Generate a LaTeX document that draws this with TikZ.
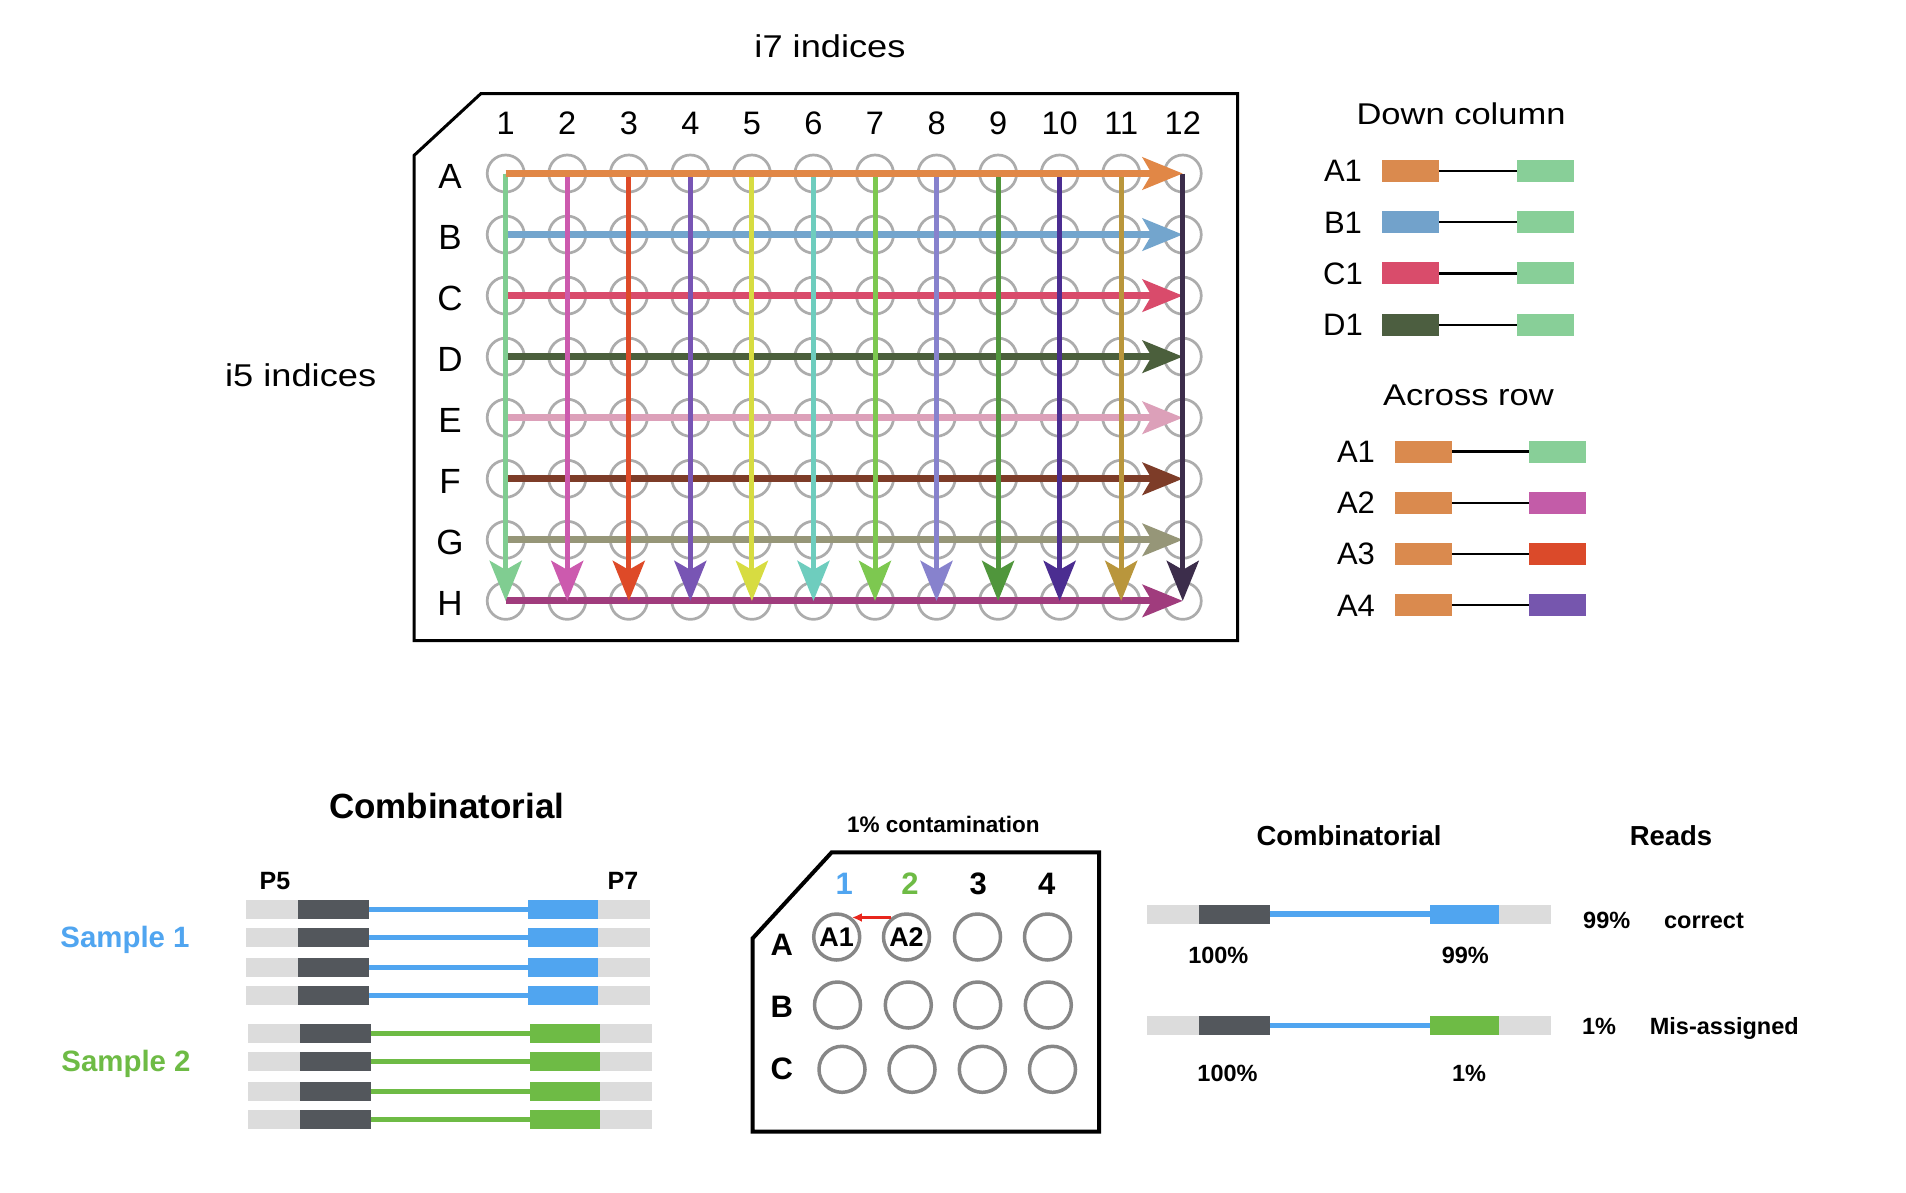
\documentclass[tikz,border=0pt]{standalone}
\usepackage{fontspec}
\setmainfont{Liberation Sans}
\newfontfamily\widefont[FakeStretch=1.15]{Liberation Sans}
\usetikzlibrary{arrows.meta}
\newcommand{\fsz}[1]{\fontsize{#1}{#1}\selectfont}
% plate colours
\definecolor{wellgray}{RGB}{172,172,172}
\definecolor{cA}{RGB}{225,135,70}
\definecolor{cB}{RGB}{115,165,205}
\definecolor{cC}{RGB}{217,75,107}
\definecolor{cD}{RGB}{75,95,60}
\definecolor{cE}{RGB}{220,160,185}
\definecolor{cF}{RGB}{125,60,40}
\definecolor{cG}{RGB}{150,150,120}
\definecolor{cH}{RGB}{160,60,125}
\definecolor{v1}{RGB}{128,205,145}
\definecolor{v2}{RGB}{204,90,174}
\definecolor{v3}{RGB}{222,74,40}
\definecolor{v4}{RGB}{120,85,180}
\definecolor{v5}{RGB}{215,220,65}
\definecolor{v6}{RGB}{110,205,190}
\definecolor{v7}{RGB}{125,200,80}
\definecolor{v8}{RGB}{135,130,205}
\definecolor{v9}{RGB}{80,150,60}
\definecolor{v10}{RGB}{75,45,145}
\definecolor{v11}{RGB}{185,150,60}
\definecolor{v12}{RGB}{60,45,75}
% legend colours
\definecolor{lgOrange}{RGB}{218,138,78}
\definecolor{lgGreen}{RGB}{136,207,152}
\definecolor{lgBlue}{RGB}{114,162,203}
\definecolor{lgCrimson}{RGB}{217,76,107}
\definecolor{lgDark}{RGB}{76,94,64}
\definecolor{lgMagenta}{RGB}{195,92,168}
\definecolor{lgRed}{RGB}{219,74,42}
\definecolor{lgPurple}{RGB}{118,86,174}
% bottom colours
\definecolor{sBlue}{RGB}{80,165,240}
\definecolor{sGreen}{RGB}{110,187,69}
\definecolor{sDark}{RGB}{83,87,92}
\definecolor{sGray}{RGB}{220,220,220}
\definecolor{sWell}{RGB}{135,135,135}
\definecolor{sRed}{RGB}{232,38,28}

\newcommand{\dnastrip}[8]{%
  \node[graybar, minimum width=52pt] (#1gl) at ({#3-26},#2) {};
  \node[darkbar, minimum width={(#4-#3)*1pt}] (#1dk) at ({(#3+#4)/2},#2) {};
  \node[graybar, minimum width=52pt] (#1gr) at ({#6+26},#2) {};
  \node[bar, fill=#7, minimum width={(#6-#5)*1pt}] (#1cb) at ({(#5+#6)/2},#2) {};
  \draw[insert, draw=#8] (#1dk.east) -- (#1cb.west);
}

\begin{document}
\begin{tikzpicture}[x=1pt,y=-1pt,
  well/.style={circle, draw=wellgray, line width=2.7pt, minimum size=37pt, inner sep=0pt},
  hrow/.style={line width=7pt, -{Stealth[length=40pt,width=32pt,inset=9pt]}},
  vcol/.style={line width=5pt, -{Stealth[length=40pt,width=32pt,inset=9pt]}},
  plate/.style={draw=black, line width=3pt, line join=miter},
  legbox/.style={rectangle, minimum width=57pt, minimum height=22pt, inner sep=0pt, outer sep=0pt},
  legline/.style={draw=black, line width=2.3pt},
  bar/.style={rectangle, minimum height=19pt, inner sep=0pt, outer sep=0pt},
  graybar/.style={bar, fill=sGray},
  darkbar/.style={bar, fill=sDark},
  insert/.style={line width=5.5pt},
  swell/.style={circle, draw=sWell, line width=3.5pt, minimum size=46pt, inner sep=0pt, font=\bfseries\fsz{27}},
  txt/.style={anchor=base, inner sep=0pt},
]
\path[use as bounding box, fill=white] (0,0) rectangle (1906,1192);

% ================= top plate =================
\draw[plate] (481,93.5) -- (1237.5,93.5) -- (1237.5,640.5) -- (414,640.5) -- (414,155.5) -- cycle;
\node[txt, font=\widefont\fsz{31.5}] (i7) at (830,57.3) {i7 indices};
\node[txt, font=\widefont\fsz{31.5}] (i5) at (300.7,386.7) {i5 indices};

\foreach \j in {1,...,12} {
  \node[txt, font=\fsz{32.5}] (col\j) at ({505.7+61.55*(\j-1)},134.3) {\j};
}
\foreach \r [count=\i from 0] in {A,B,C,D,E,F,G,H} {
  \node[txt, font=\fsz{35}] (row\r) at (450,{173.5+61.05*\i+14.5}) {\r};
  \foreach \j in {1,...,12} {
    \node[well] (w-\r-\j) at ({505.7+61.55*(\j-1)},{173.5+61.05*\i}) {};
  }
}
% horizontal arrows (rows B-H)
\foreach \r in {B,C,D,E,F,G,H} {
  \draw[hrow, draw=c\r, fill=c\r] (w-\r-1.center) -- (w-\r-12.center);
}
% vertical arrows
\foreach \j in {1,...,12} {
  \draw[vcol, draw=v\j, fill=v\j] (w-A-\j.center) -- (w-H-\j.center);
}
\draw[hrow, draw=cA, fill=cA] (w-A-1.center) -- (w-A-12.center);

% ================= legend =================
\node[txt, font=\widefont\fsz{30}] (downT) at (1461,124.3) {Down column};
\foreach \lab/\lc/\rc [count=\i from 0] in {A1/lgOrange/lgGreen, B1/lgBlue/lgGreen, C1/lgCrimson/lgGreen, D1/lgDark/lgGreen} {
  \node[txt, font=\fsz{31}] (dl\i) at (1343,{170.8+51.3*\i+11}) {\lab};
  \node[legbox, fill=\lc] (dL\i) at (1410.5,{170.8+51.3*\i}) {};
  \node[legbox, fill=\rc] (dR\i) at (1545.5,{170.8+51.3*\i}) {};
  \draw[legline] (dL\i.east) -- (dR\i.west);
}
\node[txt, font=\widefont\fsz{30}] (acrossT) at (1468.5,405.5) {Across row};
\foreach \lab/\lc/\rc [count=\i from 0] in {A1/lgOrange/lgGreen, A2/lgOrange/lgMagenta, A3/lgOrange/lgRed, A4/lgOrange/lgPurple} {
  \node[txt, font=\fsz{31}] (al\i) at (1356,{451.5+51.2*\i+11}) {\lab};
  \node[legbox, fill=\lc] (aL\i) at (1423.5,{451.5+51.2*\i}) {};
  \node[legbox, fill=\rc] (aR\i) at (1557.5,{451.5+51.2*\i}) {};
  \draw[legline] (aL\i.east) -- (aR\i.west);
}

% ================= bottom left =================
\node[txt, font=\bfseries\fsz{35}] (combL) at (446.7,818.3) {Combinatorial};
\node[txt, font=\bfseries\fsz{25}] (p5) at (275,889.3) {P5};
\node[txt, font=\bfseries\fsz{25}] (p7) at (623,889.3) {P7};
\node[txt, font=\bfseries\fsz{29.4}, text=sBlue] (samp1) at (125,947.5) {Sample 1};
\node[txt, font=\bfseries\fsz{29.4}, text=sGreen] (samp2) at (126,1071.5) {Sample 2};
\foreach \yy [count=\i] in {909.5,937.5,967.5,995.3} {
  \dnastrip{sa\i}{\yy}{297.7}{369}{528.3}{597.7}{sBlue}{sBlue}
}
\foreach \yy [count=\i] in {1033.3,1061.3,1091.3,1119.3} {
  \dnastrip{sb\i}{\yy}{300}{371}{530}{600}{sGreen}{sGreen}
}

% ================= middle plate =================
\node[txt, font=\bfseries\fsz{22.5}] (contam) at (943.3,832.3) {1\% contamination};
\draw[plate, line width=4pt] (831.7,852.3) -- (1099,852.3) -- (1099,1131.7) -- (752.7,1131.7) -- (752.7,938.3) -- cycle;
\node[txt, font=\bfseries\fsz{31}, text=sBlue] (mc1) at (844.3,894.5) {1};
\node[txt, font=\bfseries\fsz{31}, text=sGreen] (mc2) at (910,894.5) {2};
\node[txt, font=\bfseries\fsz{31}] (mc3) at (978.3,894.5) {3};
\node[txt, font=\bfseries\fsz{31}] (mc4) at (1046.7,894.5) {4};
\node[txt, font=\bfseries\fsz{31}] (mrA) at (781.7,955) {A};
\node[txt, font=\bfseries\fsz{31}] (mrB) at (781.7,1017.7) {B};
\node[txt, font=\bfseries\fsz{31}] (mrC) at (781.7,1079.3) {C};
\node[swell] (m-A-1) at (836.7,937) {A1};
\node[swell] (m-A-2) at (906.5,937) {A2};
\node[swell] (m-A-3) at (977.5,937) {};
\node[swell] (m-A-4) at (1047.5,937) {};
\node[swell] (m-B-1) at (837.5,1005) {};
\node[swell] (m-B-2) at (908.3,1005) {};
\node[swell] (m-B-3) at (977.7,1005) {};
\node[swell] (m-B-4) at (1048.3,1005) {};
\node[swell] (m-C-1) at (842,1069.3) {};
\node[swell] (m-C-2) at (912,1069.3) {};
\node[swell] (m-C-3) at (982.3,1069.3) {};
\node[swell] (m-C-4) at (1052.5,1069.3) {};
\draw[sRed, line width=2.3pt, -{Latex[length=10pt,width=9pt]}] (m-A-2.128) -- (m-A-1.52);

% ================= right section =================
\node[txt, font=\bfseries\fsz{27.5}] (combR) at (1349,845) {Combinatorial};
\node[txt, font=\bfseries\fsz{27.5}] (reads) at (1671,845) {Reads};
\dnastrip{r1}{914}{1199}{1269.7}{1430}{1499.3}{sBlue}{sBlue}
\dnastrip{r2}{1025.3}{1199}{1269.7}{1430}{1499.3}{sGreen}{sBlue}
\node[txt, font=\bfseries\fsz{23.5}] (p100a) at (1218.3,963.3) {100\%};
\node[txt, font=\bfseries\fsz{23.5}] (p99a) at (1465.3,963.3) {99\%};
\node[txt, font=\bfseries\fsz{23.5}] (p100b) at (1227.5,1081.7) {100\%};
\node[txt, font=\bfseries\fsz{23.5}] (p1b) at (1469,1081.7) {1\%};
\node[txt, font=\bfseries\fsz{23.5}] (r99) at (1606.7,928.3) {99\%};
\node[txt, font=\bfseries\fsz{23.5}] (rcorrect) at (1704,928.3) {correct};
\node[txt, font=\bfseries\fsz{23.5}] (r1) at (1599,1034.8) {1\%};
\node[txt, font=\bfseries\fsz{23.5}] (rmis) at (1724.3,1034.8) {Mis-assigned};
\end{tikzpicture}
\end{document}
